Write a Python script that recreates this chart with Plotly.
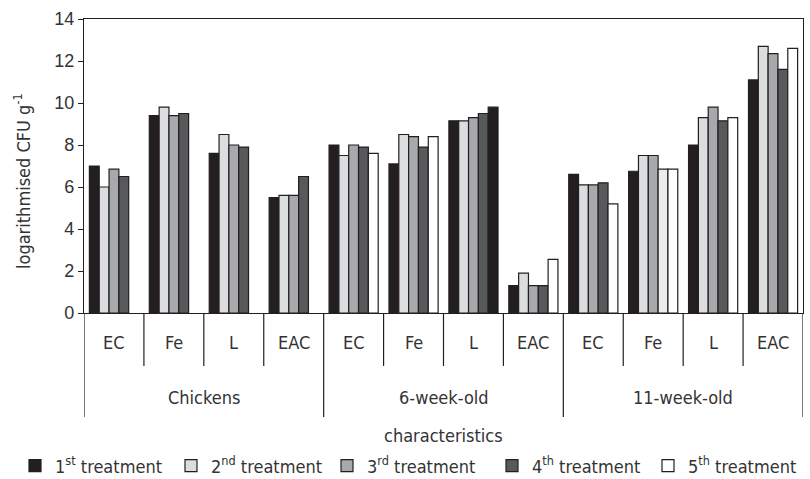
import plotly.graph_objects as go

ages = ["Chickens", "6-week-old", "11-week-old"]
chars = ["EC", "Fe", "L", "EAC"]
treatments = ["1<sup>st</sup> treatment", "2<sup>nd</sup> treatment", "3<sup>rd</sup> treatment",
              "4<sup>th</sup> treatment", "5<sup>th</sup> treatment"]

t1 = [7.0, 9.4, 7.6, 5.5, 8.0, 7.1, 9.15, 1.3, 6.6, 6.75, 8.0, 11.1]
t2 = [6.0, 9.8, 8.5, 5.6, 7.5, 8.5, 9.15, 1.9, 6.1, 7.5, 9.3, 12.7]
t3 = [6.85, 9.4, 8.0, 5.6, 8.0, 8.4, 9.3, 1.3, 6.1, 7.5, 9.8, 12.35]
t4 = [6.5, 9.5, 7.9, 6.5, 7.9, 7.9, 9.5, 1.3, 6.2, 6.85, 9.15, 11.6]
t5 = [None, None, None, None, 7.6, 8.4, 9.8, 2.55, 5.2, 6.85, 9.3, 12.6]
series = [t1, t2, t3, t4, t5]

base_colors = ["#231f20", "#dcdddf", "#a7a9ac", "#58595b", "#ffffff"]
EDGE = "#231f20"
NARROW = "DejaVu Sans Condensed, DejaVu Sans, sans-serif"
TXT = "#333333"

cats = [f"{a} {c}" for a in ages for c in chars]

fig = go.Figure()
for k, (name, vals) in enumerate(zip(treatments, series)):
    cols = [base_colors[k]] * len(cats)
    if k == 4:
        cols[6] = "#231f20"   # 6-week-old L, 5th bar drawn dark in the original
    if k == 3:
        cols[9] = "#ececec"   # 11-week-old Fe, 4th bar drawn light in the original
    fig.add_trace(go.Bar(
        x=cats, y=vals, name=name,
        legend="legend" if k < 3 else "legend2",
        marker=dict(color=cols, line=dict(color=EDGE, width=1.2)),
    ))

n = len(cats)
shapes = []
for i in range(1, n):
    if i % len(chars) != 0:
        shapes.append(dict(type="line", xref="x", yref="paper", x0=i - 0.5, x1=i - 0.5,
                           y0=0, y1=-0.18, line=dict(color=EDGE, width=1.2)))
for g in range(len(ages) + 1):
    xv = g * len(chars) - 0.5
    shapes.append(dict(type="line", xref="x", yref="paper", x0=xv, x1=xv,
                       y0=0, y1=-0.354, line=dict(color=EDGE, width=1.2)))

annotations = []
for i, c in enumerate(cats):
    annotations.append(dict(x=c, xref="x", y=-0.099, yref="paper", text=chars[i % len(chars)],
                            showarrow=False, yanchor="middle",
                            font=dict(family=NARROW, size=18, color=TXT)))
for g, a in enumerate(ages):
    annotations.append(dict(x=g * len(chars) + 1.5, xref="x", y=-0.286, yref="paper", text=a,
                            showarrow=False, yanchor="middle",
                            font=dict(family=NARROW, size=18, color=TXT)))
annotations.append(dict(x=0.5, xref="paper", y=-0.418, yref="paper", text="characteristics",
                        showarrow=False, yanchor="middle",
                        font=dict(family=NARROW, size=18, color=TXT)))
annotations.append(dict(x=(22 - 84) / 719, xref="paper", y=(313 - 181) / 294, yref="paper",
                        text="logarithmised CFU g<sup>-1</sup>", textangle=-90,
                        showarrow=False, xanchor="center", yanchor="middle",
                        font=dict(family=NARROW, size=18, color=TXT)))

legend_style = dict(orientation="h", xref="container", xanchor="left",
                    yref="container", y=13 / 479, yanchor="middle",
                    font=dict(family=NARROW, size=18, color=TXT),
                    traceorder="normal", itemwidth=30, tracegroupgap=0,
                    entrywidth=111, entrywidthmode="pixels")

fig.update_layout(
    width=810, height=479,
    margin=dict(l=84, r=7, t=19, b=166, autoexpand=False),
    paper_bgcolor="white", plot_bgcolor="white",
    barmode="group", bargap=0.18, bargroupgap=0,
    shapes=shapes, annotations=annotations,
    showlegend=True,
    legend=dict(x=15 / 810, **legend_style),
    legend2=dict(x=492 / 810, **legend_style),
)
fig.update_xaxes(type="category", categoryorder="array", categoryarray=cats,
                 showticklabels=False, ticks="", showline=True, linecolor=EDGE, linewidth=1.2,
                 mirror=True, showgrid=False, range=[-0.5, n - 0.5])
fig.update_yaxes(range=[0, 14], dtick=2, ticks="outside", ticklen=5, tickcolor=EDGE,
                 showline=True, linecolor=EDGE, linewidth=1.2, mirror=True, showgrid=False,
                 zeroline=False,
                 tickfont=dict(family="Liberation Sans, Arial, sans-serif", size=18, color=TXT))

fig.write_html("out.html", config={"displayModeBar": False},
               post_script="document.body.style.margin='0px';")
